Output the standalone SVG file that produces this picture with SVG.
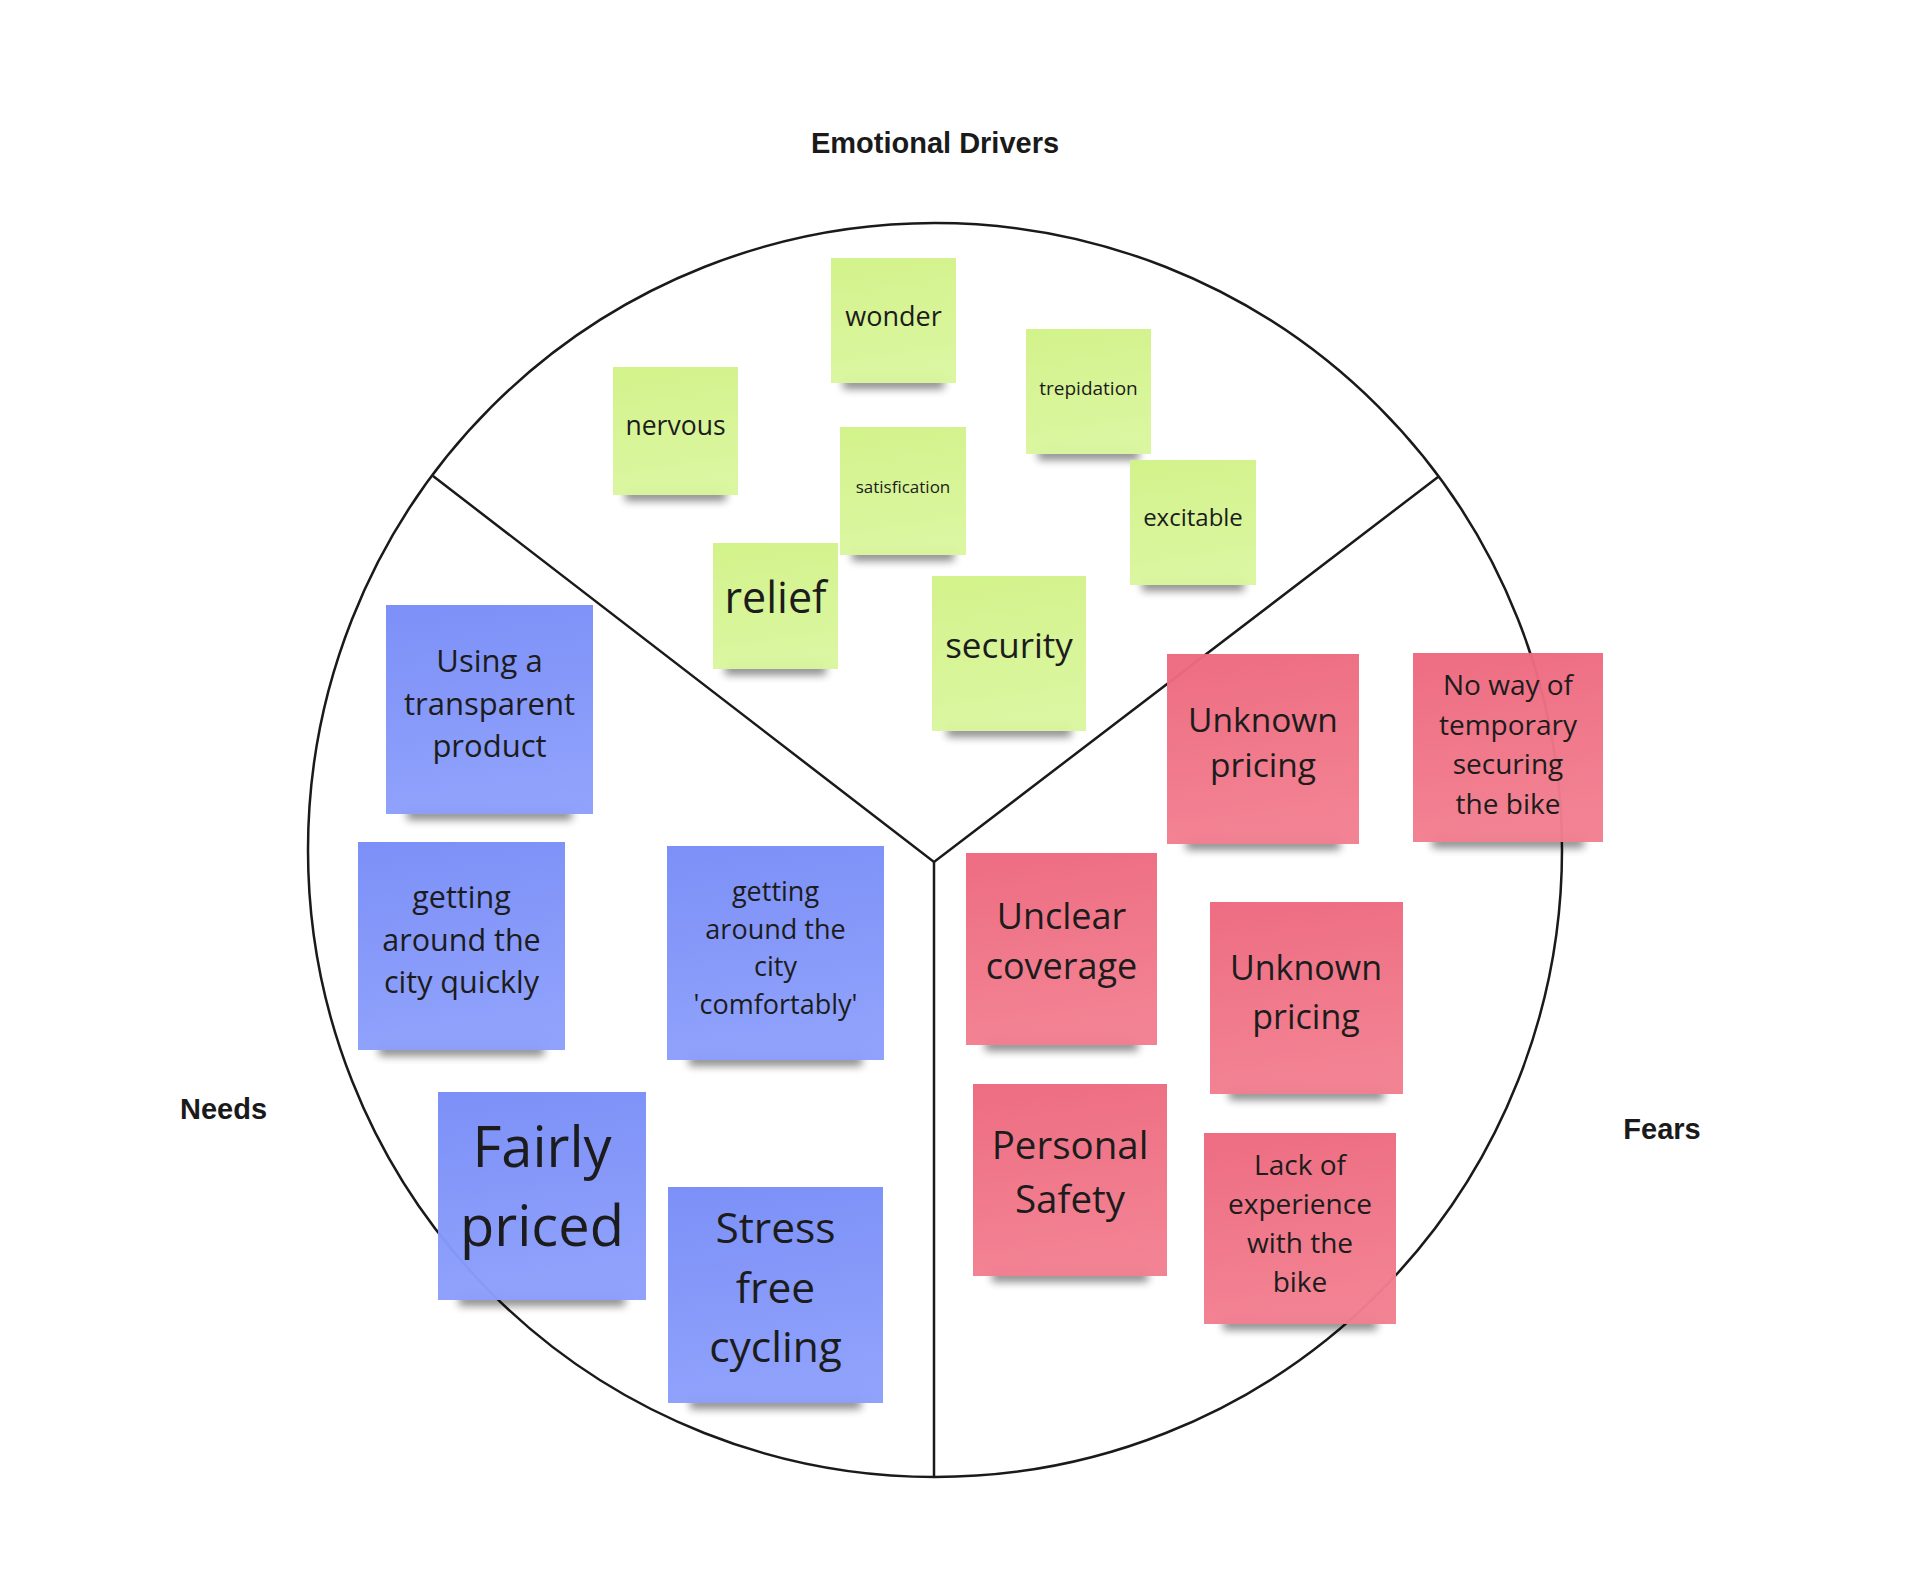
<svg xmlns="http://www.w3.org/2000/svg" width="1920" height="1576" viewBox="0 0 1920 1576">
<style>
.lbl{font-family:"Liberation Sans",Arial,sans-serif;font-weight:bold;font-size:29px;fill:#1a1a1a;text-anchor:middle}
.t{font-family:"Open Sans","Noto Sans",sans-serif;fill:#1c1c1c;text-anchor:middle}
.frame{fill:none;stroke:#1a1a1a;stroke-width:2.5}
.sh{fill:#000;opacity:0.45;filter:url(#blur)}
.g{fill:url(#gg);fill-opacity:0.97}
.b{fill:url(#gb);fill-opacity:0.97}
.r{fill:url(#gr);fill-opacity:0.97}
</style>
<defs>
<filter id="blur" x="-20%" y="-100%" width="140%" height="300%"><feGaussianBlur stdDeviation="4"/></filter>
<linearGradient id="gg" x1="0" y1="0" x2="0.15" y2="1"><stop offset="0" stop-color="#d1f287"/><stop offset="1" stop-color="#daf69e"/></linearGradient>
<linearGradient id="gb" x1="0" y1="0" x2="0.15" y2="1"><stop offset="0" stop-color="#788cf7"/><stop offset="1" stop-color="#8c9ffb"/></linearGradient>
<linearGradient id="gr" x1="0" y1="0" x2="0.15" y2="1"><stop offset="0" stop-color="#ed687e"/><stop offset="1" stop-color="#f27f90"/></linearGradient>
</defs>
<rect width="1920" height="1576" fill="#ffffff"/>

<g id="labels">
<text class="lbl" x="935" y="153">Emotional Drivers</text>
<text class="lbl" x="223.5" y="1119">Needs</text>
<text class="lbl" x="1662" y="1139">Fears</text>
</g>

<g id="connectors">
<circle class="frame" cx="935" cy="850" r="627"/>
<polyline class="frame" points="433,476 934,862 1438,477"/>
<line class="frame" x1="934" y1="862" x2="934" y2="1477"/>
</g>

<g id="wonder"><rect class="sh" x="843" y="377" width="101" height="12"/><rect class="g" x="831" y="258" width="125" height="125"/><text class="t" x="893.5" y="326" font-size="27">wonder</text></g>
<g id="nervous"><rect class="sh" x="625" y="489" width="101" height="12"/><rect class="g" x="613" y="367" width="125" height="128"/><text class="t" x="675.5" y="435" font-size="26.5">nervous</text></g>
<g id="trepidation"><rect class="sh" x="1038" y="448" width="101" height="12"/><rect class="g" x="1026" y="329" width="125" height="125"/><text class="t" x="1088.5" y="395" font-size="19">trepidation</text></g>
<g id="satisfication"><rect class="sh" x="852" y="549" width="102" height="12"/><rect class="g" x="840" y="427" width="126" height="128"/><text class="t" x="903" y="493" font-size="17">satisfication</text></g>
<g id="excitable"><rect class="sh" x="1142" y="579" width="102" height="12"/><rect class="g" x="1130" y="460" width="126" height="125"/><text class="t" x="1193" y="526" font-size="24">excitable</text></g>
<g id="relief"><rect class="sh" x="725" y="663" width="101" height="12"/><rect class="g" x="713" y="543" width="125" height="126"/><text class="t" x="775.5" y="613" font-size="43">relief</text></g>
<g id="security"><rect class="sh" x="947" y="725" width="124" height="12"/><rect class="g" x="932" y="576" width="154" height="155"/><text class="t" x="1009" y="658" font-size="35">security</text></g>

<g id="transparent-product"><rect class="sh" x="407" y="808" width="165" height="12"/><rect class="b" x="386" y="605" width="207" height="209"/><text class="t" font-size="31"><tspan x="489.5" y="672">Using a</tspan><tspan x="489.5" y="714.5">transparent</tspan><tspan x="489.5" y="757">product</tspan></text></g>
<g id="city-quickly"><rect class="sh" x="379" y="1044" width="165" height="12"/><rect class="b" x="358" y="842" width="207" height="208"/><text class="t" font-size="30.5"><tspan x="461.5" y="908">getting</tspan><tspan x="461.5" y="950.5">around the</tspan><tspan x="461.5" y="993">city quickly</tspan></text></g>
<g id="city-comfortably"><rect class="sh" x="689" y="1054" width="173" height="12"/><rect class="b" x="667" y="846" width="217" height="214"/><text class="t" font-size="27"><tspan x="775.5" y="901">getting</tspan><tspan x="775.5" y="938.5">around the</tspan><tspan x="775.5" y="976">city</tspan><tspan x="775.5" y="1013.5">'comfortably'</tspan></text></g>
<g id="fairly-priced"><rect class="sh" x="459" y="1294" width="166" height="12"/><rect class="b" x="438" y="1092" width="208" height="208"/><text class="t" font-size="56"><tspan x="542" y="1167">Fairly</tspan><tspan x="542" y="1246">priced</tspan></text></g>
<g id="stress-free"><rect class="sh" x="690" y="1397" width="171" height="12"/><rect class="b" x="668" y="1187" width="215" height="216"/><text class="t" font-size="42.5"><tspan x="775.5" y="1243">Stress</tspan><tspan x="775.5" y="1302.5">free</tspan><tspan x="775.5" y="1362">cycling</tspan></text></g>

<g id="unknown-pricing-1"><rect class="sh" x="1186" y="838" width="154" height="12"/><rect class="r" x="1167" y="654" width="192" height="190"/><text class="t" font-size="33.5"><tspan x="1263" y="732">Unknown</tspan><tspan x="1263" y="777">pricing</tspan></text></g>
<g id="no-way"><rect class="sh" x="1432" y="836" width="152" height="12"/><rect class="r" x="1413" y="653" width="190" height="189"/><text class="t" font-size="28"><tspan x="1508" y="695">No way of</tspan><tspan x="1508" y="734.5">temporary</tspan><tspan x="1508" y="774">securing</tspan><tspan x="1508" y="813.5">the bike</tspan></text></g>
<g id="unclear-coverage"><rect class="sh" x="985" y="1039" width="153" height="12"/><rect class="r" x="966" y="853" width="191" height="192"/><text class="t" font-size="36"><tspan x="1061.5" y="929">Unclear</tspan><tspan x="1061.5" y="979">coverage</tspan></text></g>
<g id="unknown-pricing-2"><rect class="sh" x="1229" y="1088" width="155" height="12"/><rect class="r" x="1210" y="902" width="193" height="192"/><text class="t" font-size="34"><tspan x="1306" y="980">Unknown</tspan><tspan x="1306" y="1028.5">pricing</tspan></text></g>
<g id="personal-safety"><rect class="sh" x="992" y="1270" width="156" height="12"/><rect class="r" x="973" y="1084" width="194" height="192"/><text class="t" font-size="38.5"><tspan x="1070" y="1159">Personal</tspan><tspan x="1070" y="1213">Safety</tspan></text></g>
<g id="lack-of-experience"><rect class="sh" x="1223" y="1318" width="154" height="12"/><rect class="r" x="1204" y="1133" width="192" height="191"/><text class="t" font-size="28"><tspan x="1300" y="1175">Lack of</tspan><tspan x="1300" y="1214">experience</tspan><tspan x="1300" y="1253">with the</tspan><tspan x="1300" y="1292">bike</tspan></text></g>
</svg>
